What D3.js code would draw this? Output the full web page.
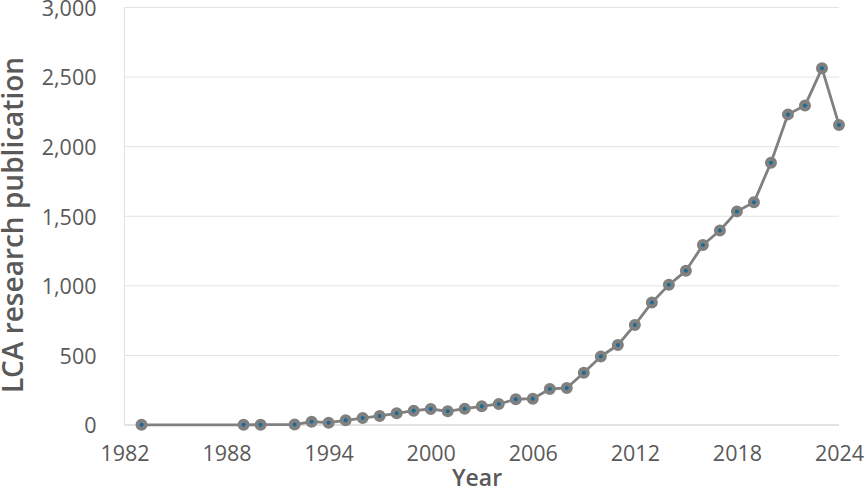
<!DOCTYPE html>
<html>
<head>
<meta charset="utf-8">
<script src="https://cdn.jsdelivr.net/npm/d3@7"></script>
<style>
  html, body { margin: 0; padding: 0; background: #ffffff; }
  svg { display: block; }
  text { font-family: "Open Sans", "Segoe UI", sans-serif; }
</style>
</head>
<body>
<svg id="chart" width="866" height="489"></svg>
<script>
// Data
const years = [1983, 1989, 1990, 1992, 1993, 1994, 1995, 1996, 1997, 1998, 1999, 2000,
               2001, 2002, 2003, 2004, 2005, 2006, 2007, 2008, 2009, 2010, 2011, 2012,
               2013, 2014, 2015, 2016, 2017, 2018, 2019, 2020, 2021, 2022, 2023, 2024];
const publications = [1, 1, 2, 3, 24, 17, 34, 50, 65, 84, 103, 115,
                      98, 117, 134, 151, 185, 189, 259, 266, 376, 492, 575, 719,
                      880, 1007, 1108, 1293, 1398, 1535, 1600, 1885, 2232, 2295, 2563, 2156];
const xTicks = [1982, 1988, 1994, 2000, 2006, 2012, 2018, 2024];
const yTicks = [0, 500, 1000, 1500, 2000, 2500, 3000];
const xTitle = "Year";
const yTitle = "LCA research publication";

const svg = d3.select("#chart");
const mLeft = 124.5, mRight = 839, mTop = 7.5, mBottom = 425;

const x = d3.scaleLinear().domain([1982, 2024]).range([mLeft, mRight]);
const y = d3.scaleLinear().domain([0, 3000]).range([mBottom, mTop]);

const data = years.map((yr, i) => ({ year: yr, value: publications[i] }));

// Gridlines
svg.append("g")
  .selectAll("line")
  .data(yTicks.filter(d => d > 0))
  .join("line")
  .attr("x1", mLeft).attr("x2", mRight)
  .attr("y1", d => y(d)).attr("y2", d => y(d))
  .attr("stroke", "#e3e3e3").attr("stroke-width", 1);

// Left axis line
svg.append("line")
  .attr("x1", mLeft).attr("x2", mLeft)
  .attr("y1", mTop).attr("y2", mBottom)
  .attr("stroke", "#e0e0e0").attr("stroke-width", 1);

// Bottom axis baseline
svg.append("line")
  .attr("x1", mLeft).attr("x2", mRight)
  .attr("y1", mBottom).attr("y2", mBottom)
  .attr("stroke", "#d9d9d9").attr("stroke-width", 1.5);

// Y axis tick labels
const yAxis = d3.axisLeft(y).tickValues(yTicks).tickSize(0).tickPadding(0)
  .tickFormat(d3.format(","));
const gy = svg.append("g").attr("transform", `translate(${mLeft - 28},0)`).call(yAxis);
gy.select(".domain").remove();
gy.selectAll("text")
  .attr("font-family", "'Open Sans', sans-serif")
  .attr("font-size", 21.5)
  .attr("fill", "#595959")
  .attr("dy", "0.36em");

// X axis tick labels
const xAxis = d3.axisBottom(x).tickValues(xTicks).tickSize(0).tickPadding(0)
  .tickFormat(d3.format("d"));
const gx = svg.append("g").attr("transform", `translate(0,${mBottom + 21})`).call(xAxis);
gx.select(".domain").remove();
gx.selectAll("text")
  .attr("font-family", "'Open Sans', sans-serif")
  .attr("font-size", 21.5)
  .attr("fill", "#595959")
  .attr("dy", "0.71em");

// Line
const line = d3.line().x(d => x(d.year)).y(d => y(d.value));
svg.append("path")
  .datum(data)
  .attr("d", line)
  .attr("fill", "none")
  .attr("stroke", "#808080")
  .attr("stroke-width", 2.8)
  .attr("stroke-linejoin", "round");

// Markers
svg.append("g")
  .selectAll("circle")
  .data(data)
  .join("circle")
  .attr("cx", d => x(d.year))
  .attr("cy", d => y(d.value))
  .attr("r", 4)
  .attr("fill", "#1b6a96")
  .attr("stroke", "#808080")
  .attr("stroke-width", 4);

// Axis titles
svg.append("text")
  .attr("x", 477).attr("y", 486)
  .attr("text-anchor", "middle")
  .attr("font-weight", 600)
  .attr("font-size", 23)
  .attr("fill", "#595959")
  .text(xTitle);

svg.append("text")
  .attr("transform", "translate(23,225) rotate(-90)")
  .attr("text-anchor", "middle")
  .attr("font-weight", 600)
  .attr("font-size", 28)
  .attr("fill", "#595959")
  .text(yTitle);
</script>
</body>
</html>
